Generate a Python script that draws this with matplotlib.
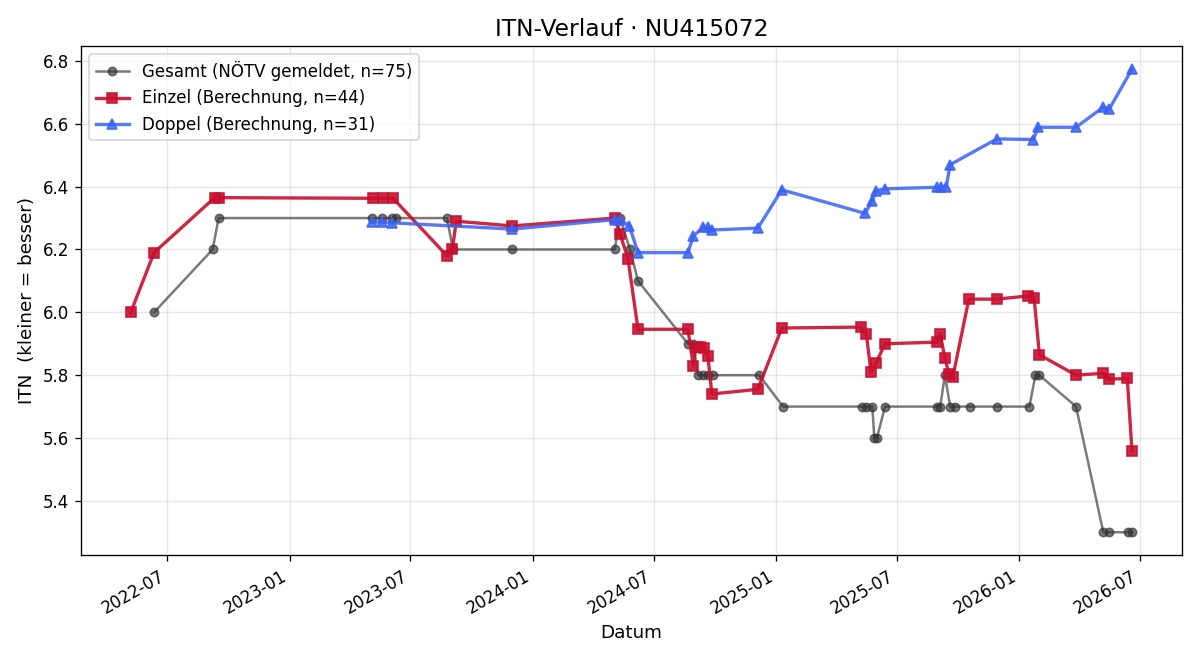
import pandas as pd
import matplotlib
matplotlib.use("Agg")
import matplotlib.pyplot as plt
import matplotlib.dates as mdates

# Gesamt (NÖTV gemeldet)
gesamt_dates = [
    "2022-06-11", "2022-09-07", "2022-09-16", "2023-05-04", "2023-05-19",
    "2023-06-03", "2023-06-09", "2023-08-25", "2023-09-03", "2023-12-01",
    "2024-05-03", "2024-05-11", "2024-05-26", "2024-06-07", "2024-08-21",
    "2024-08-29", "2024-09-05", "2024-09-13", "2024-09-20", "2024-09-28",
    "2024-12-06", "2025-01-11", "2025-05-10", "2025-05-16", "2025-05-25",
    "2025-05-28", "2025-06-01", "2025-06-13", "2025-08-30", "2025-09-04",
    "2025-09-11", "2025-09-19", "2025-09-26", "2025-10-19", "2025-11-28",
    "2026-01-16", "2026-01-25", "2026-01-31", "2026-03-27", "2026-05-07",
    "2026-05-16", "2026-06-13", "2026-06-19",
]
gesamt_itn = [
    6.0, 6.2, 6.3, 6.3, 6.3,
    6.3, 6.3, 6.3, 6.2, 6.2,
    6.2, 6.3, 6.2, 6.1, 5.9,
    5.9, 5.8, 5.8, 5.8, 5.8,
    5.8, 5.7, 5.7, 5.7, 5.7,
    5.6, 5.6, 5.7, 5.7, 5.7,
    5.8, 5.7, 5.7, 5.7, 5.7,
    5.7, 5.8, 5.8, 5.7, 5.3,
    5.3, 5.3, 5.3,
]

# Einzel (Berechnung)
einzel_dates = [
    "2022-05-07", "2022-06-11", "2022-09-10", "2022-09-16", "2023-05-06",
    "2023-05-21", "2023-06-05", "2023-08-25", "2023-09-02", "2023-09-08",
    "2023-12-01", "2024-05-03", "2024-05-11", "2024-05-23", "2024-06-07",
    "2024-08-21", "2024-08-29", "2024-09-02", "2024-09-08", "2024-09-14",
    "2024-09-20", "2024-09-26", "2024-12-04", "2025-01-09", "2025-05-08",
    "2025-05-16", "2025-05-23", "2025-05-31", "2025-06-13", "2025-08-30",
    "2025-09-04", "2025-09-11", "2025-09-17", "2025-09-23", "2025-10-17",
    "2025-11-28", "2026-01-14", "2026-01-23", "2026-01-31", "2026-03-27",
    "2026-05-07", "2026-05-16", "2026-06-12", "2026-06-19",
]
einzel_itn = [
    6.0, 6.19, 6.365, 6.365, 6.363,
    6.363, 6.363, 6.18, 6.20, 6.29,
    6.275, 6.30, 6.25, 6.17, 5.946,
    5.946, 5.83, 5.89, 5.89, 5.885,
    5.86, 5.74, 5.755, 5.95, 5.953,
    5.93, 5.81, 5.84, 5.90, 5.905,
    5.93, 5.855, 5.805, 5.795, 6.042,
    6.042, 6.052, 6.047, 5.865, 5.80,
    5.806, 5.787, 5.79, 5.56,
]

# Doppel (Berechnung)
doppel_dates = [
    "2023-05-04", "2023-05-19", "2023-06-03", "2023-12-01", "2024-05-03",
    "2024-05-11", "2024-05-25", "2024-06-07", "2024-08-21", "2024-08-29",
    "2024-09-13", "2024-09-20", "2024-09-26", "2024-12-04", "2025-01-09",
    "2025-05-14", "2025-05-25", "2025-05-31", "2025-06-13", "2025-08-30",
    "2025-09-05", "2025-09-13", "2025-09-19", "2025-11-28", "2026-01-22",
    "2026-01-29", "2026-03-27", "2026-05-07", "2026-05-16", "2026-06-19",
]
doppel_itn = [
    6.287, 6.287, 6.285, 6.265, 6.295,
    6.295, 6.275, 6.19, 6.19, 6.243,
    6.27, 6.27, 6.262, 6.268, 6.39,
    6.315, 6.355, 6.387, 6.393, 6.398,
    6.40, 6.40, 6.47, 6.552, 6.55,
    6.589, 6.589, 6.653, 6.647, 6.774,
]

fig, ax = plt.subplots(figsize=(10, 5.5), dpi=120)

ax.plot(pd.to_datetime(gesamt_dates), gesamt_itn, marker="o", color="#333333",
        alpha=0.65, linewidth=1.5, markersize=5,
        label="Gesamt (NÖTV gemeldet, n=75)")
ax.plot(pd.to_datetime(einzel_dates), einzel_itn, marker="s", color="#c8102e",
        alpha=0.9, linewidth=2, markersize=6,
        label="Einzel (Berechnung, n=44)")
ax.plot(pd.to_datetime(doppel_dates), doppel_itn, marker="^", color="#3a62f2",
        alpha=0.85, linewidth=2, markersize=6,
        label="Doppel (Berechnung, n=31)")

ax.set_title("ITN-Verlauf · NU415072", fontsize=14)
ax.set_xlabel("Datum", fontsize=11)
ax.set_ylabel("ITN  (kleiner = besser)", fontsize=11)
ax.grid(True, alpha=0.3)
ax.legend(loc="upper left")

ax.xaxis.set_major_locator(mdates.MonthLocator(bymonth=[1, 7]))
ax.xaxis.set_major_formatter(mdates.DateFormatter("%Y-%m"))
fig.autofmt_xdate()

fig.tight_layout()
fig.savefig("out.png")
